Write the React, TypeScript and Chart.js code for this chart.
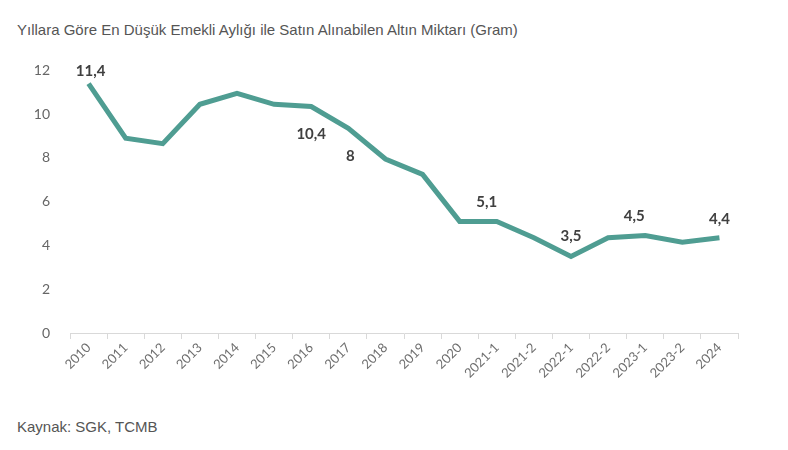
import React, { useEffect, useRef } from "react";
import { Chart, registerables } from "chart.js";

Chart.register(...registerables);

const categories = ["2010", "2011", "2012", "2013", "2014", "2015", "2016", "2017", "2018", "2019", "2020", "2021-1", "2021-2", "2022-1", "2022-2", "2023-1", "2023-2", "2024"];
const goldGrams = [11.4, 8.9, 8.65, 10.45, 10.95, 10.45, 10.35, 9.35, 7.95, 7.25, 5.1, 5.1, 4.35, 3.5, 4.35, 4.45, 4.15, 4.35];
const pointLabels = ["11,4", "", "", "", "", "", "10,4", "", "8", "", "", "5,1", "", "3,5", "", "4,5", "", "4,4"];
const yTicks = [0, 2, 4, 6, 8, 10, 12];

const labelOffsets: Record<number, [number, number]> = {
  0: [2, -12],
  6: [0, 28],
  8: [-35, -3],
  11: [-10, -19],
  13: [0, -20],
  15: [-11, -19],
  17: [0, -19],
};

const labelPlugin = {
  id: "pointLabelsPlugin",
  afterDatasetsDraw(chart: any) {
    const meta = chart.getDatasetMeta(0);
    const ctx = chart.ctx;
    ctx.save();
    ctx.font = "bold 15px Lato, 'Open Sans', sans-serif";
    ctx.fillStyle = "#404040";
    ctx.textAlign = "center";
    ctx.textBaseline = "middle";
    pointLabels.forEach((t, i) => {
      if (!t) return;
      const el = meta.data[i];
      const off = labelOffsets[i] || [0, -18];
      ctx.fillText(t, el.x + off[0], el.y + off[1]);
    });
    ctx.restore();
  },
};

export default function App() {
  const ref = useRef<HTMLCanvasElement | null>(null);
  useEffect(() => {
    if (!ref.current) return;
    const chart = new Chart(ref.current, {
      type: "line",
      data: {
        labels: categories,
        datasets: [
          {
            data: goldGrams,
            borderColor: "#4f9d92",
            borderWidth: 5,
            pointRadius: 0,
            fill: false,
            tension: 0,
            borderJoinStyle: "miter",
          },
        ],
      },
      options: {
        responsive: false,
        animation: false,
        layout: { padding: { top: 19, right: 50, left: 0, bottom: 0 } },
        plugins: { legend: { display: false }, tooltip: { enabled: false } },
        scales: {
          x: {
            offset: true,
            grid: {
              display: true,
              offset: true,
              drawOnChartArea: false,
              drawTicks: true,
              tickLength: 6,
              color: "#d9d9d9",
            },
            border: { display: true, color: "#d9d9d9", width: 1 },
            ticks: {
              color: "#6f6f6f",
              font: { family: "Lato, 'Open Sans', sans-serif", size: 13 },
              maxRotation: 45,
              minRotation: 45,
              autoSkip: false,
              padding: 1,
            },
            afterFit: (s: any) => {
              s.height = 67;
            },
          },
          y: {
            min: 0,
            max: 12,
            afterBuildTicks: (s: any) => {
              s.ticks = yTicks.map((v) => ({ value: v }));
            },
            grid: { display: false },
            border: { display: false },
            ticks: {
              color: "#666666",
              font: { family: "Lato, 'Open Sans', sans-serif", size: 14 },
              padding: 12,
            },
            afterFit: (s: any) => {
              s.width = 70;
            },
          },
        },
      },
      plugins: [labelPlugin],
    } as any);
    return () => chart.destroy();
  }, []);

  return (
    <div style={{ position: "fixed", left: 0, top: 0, width: 788, height: 450, background: "#fff", overflow: "hidden" }}>
      <div
        style={{
          position: "absolute",
          left: 17,
          top: 21,
          fontFamily: "'Liberation Sans', Arial, sans-serif",
          fontSize: 15,
          color: "#555555",
          whiteSpace: "nowrap",
        }}
      >
        Yıllara Göre En Düşük Emekli Aylığı ile Satın Alınabilen Altın Miktarı (Gram)
      </div>
      <canvas ref={ref} width={788} height={350} style={{ position: "absolute", left: 0, top: 50, width: 788, height: 350 }} />
      <div
        style={{
          position: "absolute",
          left: 17,
          top: 418,
          fontFamily: "'Liberation Sans', Arial, sans-serif",
          fontSize: 15,
          color: "#555555",
          whiteSpace: "nowrap",
        }}
      >
        Kaynak: SGK, TCMB
      </div>
    </div>
  );
}
